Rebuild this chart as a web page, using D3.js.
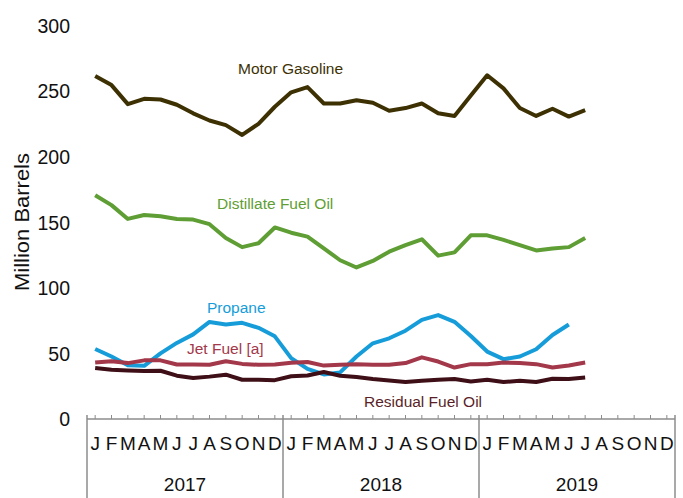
<!DOCTYPE html>
<html>
<head>
<meta charset="utf-8">
<script src="https://cdn.jsdelivr.net/npm/d3@7"></script>
<style>
  html, body { margin: 0; padding: 0; background: #fff; }
  svg { display: block; font-family: "Liberation Sans", Arial, sans-serif; }
</style>
</head>
<body>
<svg id="chart" width="683" height="498"></svg>
<script>
// Monthly inventories, million barrels, Jan 2017 onward
const years = ["2017", "2018", "2019"];
const monthLetters = ["J", "F", "M", "A", "M", "J", "J", "A", "S", "O", "N", "D"];
const yTicks = [0, 50, 100, 150, 200, 250, 300];

const motorGasoline = [261.5, 254.5, 240, 244, 243.5, 239.5, 233, 227.5, 224, 216.5, 225, 238,
                       249, 253, 240.5, 240.5, 243, 241, 235, 237, 240.5, 233, 231, 246.5,
                       262, 252, 237, 231, 236.5, 230.5, 235.5];
const distillateFuelOil = [170.5, 163, 152.5, 155.5, 154.5, 152.5, 152, 148.5, 138, 131, 134, 146,
                           142, 139, 130, 121, 115.5, 120.5, 127.5, 132.5, 137, 124.5, 127, 140,
                           140, 136.5, 132.5, 128.5, 130, 131, 138];
const propane = [53.4, 47.6, 41, 40.5, 50, 58, 64.5, 74, 72, 73.3, 69.5, 63,
                 46.4, 38.2, 34, 35.5, 47.6, 57.7, 61.5, 67.3, 75.5, 79.2, 74.1, 63.3,
                 51.4, 45.6, 47.6, 53.2, 64, 72];
const jetFuel = [43, 44, 42.6, 44.7, 44.7, 41.5, 41.5, 41.3, 44, 42, 41.3, 41.5,
                 42.8, 43.5, 40.7, 41.3, 41.8, 41.3, 41.3, 42.6, 47, 43.8, 39.2, 41.8,
                 41.8, 43, 42.6, 41.8, 39.2, 40.8, 43];
const residualFuelOil = [38.8, 37.5, 37, 36.5, 36.8, 33, 31.2, 32.3, 33.8, 29.9, 29.9, 29.6,
                         32.6, 33.1, 35.8, 33, 32, 30.5, 29.4, 28.2, 29.2, 29.9, 30.5, 28.6,
                         29.9, 28.2, 29.2, 28.2, 30.7, 30.5, 31.7];

const series = [
  { name: "Motor Gasoline", values: motorGasoline, color: "#3d3104", lx: 238, ly: 74 },
  { name: "Distillate Fuel Oil", values: distillateFuelOil, color: "#5f9e34", lx: 217, ly: 209 },
  { name: "Propane", values: propane, color: "#169dd9", lx: 207, ly: 313 },
  { name: "Jet Fuel [a]", values: jetFuel, color: "#a3384a", lx: 187, ly: 354 },
  { name: "Residual Fuel Oil", values: residualFuelOil, color: "#3f0f18", lx: 364, ly: 407, textColor: "#5a1f28" }
];

const svg = d3.select("#chart");
const plotLeft = 87, plotRight = 675, plotTop = 25.4, plotBottom = 419;

const months = d3.range(years.length * 12);
const x = d3.scaleBand().domain(months).range([plotLeft, plotRight]).paddingInner(0).paddingOuter(0);
const xc = i => x(i) + x.bandwidth() / 2;
const y = d3.scaleLinear().domain([0, 300]).range([plotBottom, plotTop]);

// y tick labels (no axis line)
const yAxis = d3.axisLeft(y).tickValues(yTicks).tickSize(0).tickPadding(0);
const gy = svg.append("g").attr("transform", `translate(70,0)`).call(yAxis);
gy.select(".domain").remove();
gy.selectAll("text")
  .attr("x", 0)
  .attr("dy", "0.35em")
  .style("font-size", "19.5px")
  .style("font-family", "'Liberation Sans', Arial, sans-serif")
  .attr("fill", "#111");

// y title
svg.append("text")
  .attr("transform", "translate(29,222) rotate(-90)")
  .attr("text-anchor", "middle")
  .attr("font-size", "20px")
  .attr("fill", "#111")
  .attr("textLength", 138)
  .attr("lengthAdjust", "spacingAndGlyphs")
  .text("Million Barrels");

// x axis: baseline, month ticks, year dividers
const axisColor = "#8c8c8c";
const gx = svg.append("g");
gx.append("line")
  .attr("x1", plotLeft).attr("x2", plotRight)
  .attr("y1", plotBottom).attr("y2", plotBottom)
  .attr("stroke", axisColor).attr("stroke-width", 1.5);
gx.selectAll("line.tick").data(months).join("line")
  .attr("class", "tick")
  .attr("x1", d => xc(d)).attr("x2", d => xc(d))
  .attr("y1", plotBottom - 4).attr("y2", plotBottom)
  .attr("stroke", axisColor).attr("stroke-width", 1);
gx.selectAll("line.div").data(d3.range(years.length + 1)).join("line")
  .attr("class", "div")
  .attr("x1", d => plotLeft + d * 12 * x.bandwidth()).attr("x2", d => plotLeft + d * 12 * x.bandwidth())
  .attr("y1", plotBottom - 4).attr("y2", 498)
  .attr("stroke", axisColor).attr("stroke-width", 1.5);
gx.selectAll("text.month").data(months).join("text")
  .attr("class", "month")
  .attr("x", d => xc(d)).attr("y", 450)
  .attr("text-anchor", "middle")
  .attr("font-size", "19px")
  .attr("fill", "#111")
  .text(d => monthLetters[d % 12]);
gx.selectAll("text.year").data(years).join("text")
  .attr("class", "year")
  .attr("x", (d, i) => plotLeft + (i * 12 + 6) * x.bandwidth()).attr("y", 491)
  .attr("text-anchor", "middle")
  .attr("font-size", "19px")
  .attr("fill", "#111")
  .text(d => d);

// series lines
const line = d3.line().x((d, i) => xc(i)).y(d => y(d));
svg.append("g").selectAll("path").data(series).join("path")
  .attr("d", d => line(d.values))
  .attr("fill", "none")
  .attr("stroke", d => d.color)
  .attr("stroke-width", 4)
  .attr("stroke-linejoin", "round");

// series labels
svg.append("g").selectAll("text").data(series).join("text")
  .attr("x", d => d.lx).attr("y", d => d.ly)
  .attr("font-size", "15.5px")
  .attr("fill", d => d.textColor || d.color)
  .text(d => d.name);
</script>
</body>
</html>
